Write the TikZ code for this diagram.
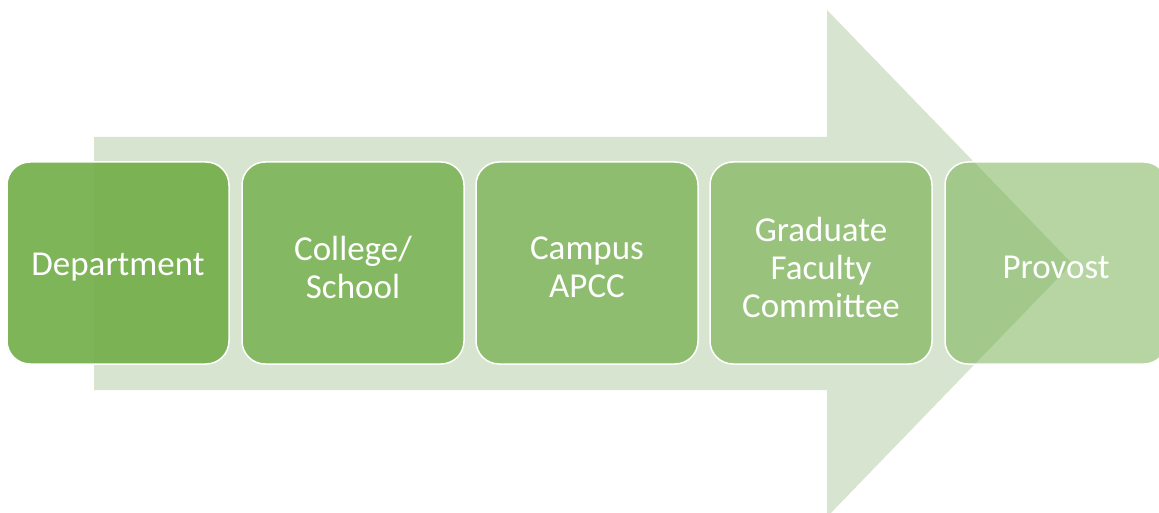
\documentclass[tikz,border=0pt]{standalone}
\usepackage{fontspec}
\setmainfont{Carlito}
\definecolor{ogreen}{HTML}{70AD47}
\definecolor{arrowgreen}{HTML}{D7E4D0}
\begin{document}
\begin{tikzpicture}[x=1pt,y=-1pt,
  stage/.style={rectangle, rounded corners=23pt, minimum width=222pt, minimum height=202pt,
    inner sep=0pt, draw=white, line width=1.5pt, fill=ogreen},
  stagetext/.style={inner sep=0pt, align=center, text=white, font=\fontsize{35}{38}\selectfont}]
\clip (0,0) rectangle (1159,513);
\fill[white] (0,0) rectangle (1159,513);
\fill[arrowgreen] (94,137) -- (827,137) -- (827,10) -- (1072,263.5) -- (827,517) -- (827,390) -- (94,390) -- cycle;
\node[stage, fill opacity=0.9] (dep) at (118,263) {};
\node[stage, fill opacity=0.8] (col) at (353,263) {};
\node[stage, fill opacity=0.7] (cam) at (587,263) {};
\node[stage, fill opacity=0.6] (gfc) at (821,263) {};
\node[stage, fill opacity=0.5] (pro) at (1056,263) {};
\node[stagetext] (deptxt) at ([yshift=-4pt]dep.center) {Department};
\node[stagetext] (coltxt) at ([yshift=-4pt]col.center) {College/\\School};
\node[stagetext] (camtxt) at ([yshift=-4pt]cam.center) {Campus\\APCC};
\node[stagetext] (gfctxt) at ([yshift=-4pt]gfc.center) {Graduate\\Faculty\\Committee};
\node[stagetext] (protxt) at ([yshift=-4pt]pro.center) {Provost};
\end{tikzpicture}
\end{document}
